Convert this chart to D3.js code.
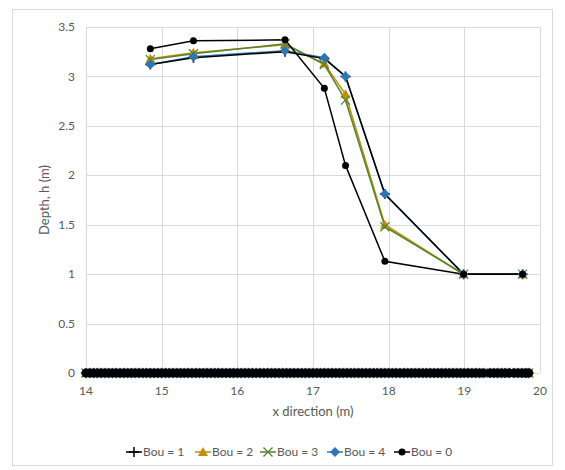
<!DOCTYPE html>
<html><head><meta charset="utf-8">
<script src="https://cdn.jsdelivr.net/npm/d3@7"></script>
<style>body{margin:0;background:#fff}svg{display:block}text{font-family:Lato,"Liberation Sans",sans-serif}</style>
</head><body><svg id="c" width="565" height="470"></svg>
<script>
const xTicks = [14,15,16,17,18,19,20];
const yTicks = [0,0.5,1,1.5,2,2.5,3,3.5];
const yTickLabels = ["0","0.5","1","1.5","2","2.5","3","3.5"];
const seriesNames = ["Bou = 1","Bou = 2","Bou = 3","Bou = 4","Bou = 0"];
const xPos = [14.85,15.42,16.63,17.15,17.43,17.95,18.99,19.77];
const bou1 = [3.12,3.19,3.25,3.18,3.00,1.81,1.00,1.00];
const bou2 = [3.18,3.24,3.32,3.13,2.82,1.50,1.00,1.00];
const bou3 = [3.17,3.23,3.33,3.12,2.76,1.48,1.00,1.00];
const bou4 = [3.12,3.20,3.26,3.19,3.00,1.81,1.00,1.00];
const bou0 = [3.28,3.36,3.37,2.88,2.10,1.13,1.00,1.00];
// x positions where every series has depth 0
const zeroX = [14.00,14.05,14.10,14.15,14.20,14.25,14.30,14.35,14.40,14.45,
 14.50,14.55,14.60,14.65,14.70,14.75,14.80,14.85,14.90,14.95,
 15.00,15.05,15.10,15.15,15.20,15.25,15.30,15.35,15.40,15.45,
 15.50,15.55,15.60,15.65,15.70,15.75,15.80,15.85,15.90,15.95,
 16.00,16.05,16.10,16.15,16.20,16.25,16.30,16.35,16.40,16.45,
 16.50,16.55,16.60,16.65,16.70,16.75,16.80,16.85,16.90,16.95,
 17.00,17.05,17.10,17.15,17.20,17.25,17.30,17.35,17.40,17.45,
 17.50,17.55,17.60,17.65,17.70,17.75,17.80,17.85,17.90,17.95,
 18.00,18.05,18.10,18.15,18.20,18.25,18.30,18.35,18.40,18.45,
 18.50,18.55,18.60,18.65,18.70,18.75,18.80,18.85,18.90,18.95,
 19.00,19.05,19.10,19.15,19.20,19.25,
 19.34,19.39,19.44,19.49,19.54,19.59,
 19.66,19.71,19.76,19.81,19.85];
const zeroY = zeroX.map(() => 0);

const colors = ["#000000","#BF9000","#548235","#2E75B6","#000000"];
const markers = ["plus","triangle","cross","diamond","circle"];
const values = [bou1,bou2,bou3,bou4,bou0];
const zeroScale = [0.9,1.0,1.0,1.12,1.3];

const svg = d3.select("#c");
svg.append("rect").attr("x",12.5).attr("y",9.5).attr("width",540).attr("height",456)
  .attr("fill","#fff").attr("stroke","#d9d9d9");

const x = d3.scaleLinear().domain([14,20]).range([86,540]);
const y = d3.scaleLinear().domain([0,3.5]).range([373,27]);

// gridlines
svg.append("g").selectAll("line").data(yTicks).join("line")
  .attr("x1",x(14)).attr("x2",x(20)).attr("y1",d=>Math.round(y(d))+0.5).attr("y2",d=>Math.round(y(d))+0.5)
  .attr("stroke","#d9d9d9").attr("stroke-width",1);
svg.append("g").selectAll("line").data(xTicks).join("line")
  .attr("y1",y(0)).attr("y2",y(3.5)).attr("x1",d=>Math.round(x(d))+0.5).attr("x2",d=>Math.round(x(d))+0.5)
  .attr("stroke","#d9d9d9").attr("stroke-width",1);

// tick labels
svg.append("g").selectAll("text").data(yTicks).join("text")
  .attr("x",75).attr("y",d=>y(d)).attr("dy","0.35em").attr("text-anchor","end")
  .attr("font-size",12).attr("fill","#595959").text((d,i)=>yTickLabels[i]);
svg.append("g").selectAll("text").data(xTicks).join("text")
  .attr("x",d=>x(d)).attr("y",391).attr("dy","0.35em").attr("text-anchor","middle")
  .attr("font-size",12).attr("fill","#595959").text(d=>d);

svg.append("text").attr("x",313).attr("y",411).attr("dy","0.35em").attr("text-anchor","middle")
  .attr("font-size",13).attr("fill","#595959").text("x direction (m)");
svg.append("text").attr("transform","translate(44,200) rotate(-90)").attr("dy","0.35em").attr("text-anchor","middle")
  .attr("font-size",13).attr("fill","#595959").text("Depth, h (m)");

function marker(g, type, cx, cy, col, k){
  k = k || 1;
  if(type==="plus"){
    const a=5*k;
    g.append("path").attr("d",`M${cx-a},${cy}H${cx+a}M${cx},${cy-a}V${cy+a}`).attr("stroke",col).attr("stroke-width",1.5).attr("fill","none");
  } else if(type==="triangle"){
    g.append("path").attr("d",`M${cx},${cy-5*k}L${cx+5*k},${cy+4*k}L${cx-5*k},${cy+4*k}Z`).attr("fill",col);
  } else if(type==="cross"){
    const a=4.5*k;
    g.append("path").attr("d",`M${cx-a},${cy-a}L${cx+a},${cy+a}M${cx-a},${cy+a}L${cx+a},${cy-a}`).attr("stroke",col).attr("stroke-width",1.3).attr("fill","none");
  } else if(type==="diamond"){
    const a=5*k;
    g.append("path").attr("d",`M${cx},${cy-a}L${cx+a},${cy}L${cx},${cy+a}L${cx-a},${cy}Z`).attr("fill",col);
  } else {
    g.append("circle").attr("cx",cx).attr("cy",cy).attr("r",3.5*k).attr("fill",col);
  }
}

const line = d3.line().x(d=>x(d[0])).y(d=>y(d[1]));
const plot = svg.append("g");
const zeroPts = zeroX.map((v,i)=>[v,zeroY[i]]);
const drawOrder = [3,1,2,0,4];
drawOrder.forEach(s=>{
  plot.append("path").datum(zeroPts).attr("d",line).attr("fill","none").attr("stroke",colors[s]).attr("stroke-width",1.5);
});
drawOrder.forEach(s=>{
  const pts = xPos.map((v,i)=>[v,values[s][i]]);
  plot.append("path").datum(pts).attr("d",line).attr("fill","none").attr("stroke",colors[s]).attr("stroke-width",1.5);
});
// markers
[0,1,2,3,4].forEach(s=>{
  const g = plot.append("g");
  zeroX.forEach(v=>marker(g, markers[s], x(v), y(0), colors[s], zeroScale[s]));
  xPos.forEach((v,i)=>marker(g, markers[s], x(v), y(values[s][i]), colors[s], 1));
});

// legend
const legX = [126,195,260,327,394];
const lg = svg.append("g");
seriesNames.forEach((n,i)=>{
  const cx = legX[i];
  lg.append("line").attr("x1",cx).attr("x2",cx+16).attr("y1",452).attr("y2",452).attr("stroke",colors[i]).attr("stroke-width",1.5);
  marker(lg, markers[i], cx+8, 452, colors[i], 1);
  lg.append("text").attr("x",cx+17).attr("y",452).attr("dy","0.35em").attr("font-size",12).attr("fill","#595959").text(n);
});
</script></body></html>
